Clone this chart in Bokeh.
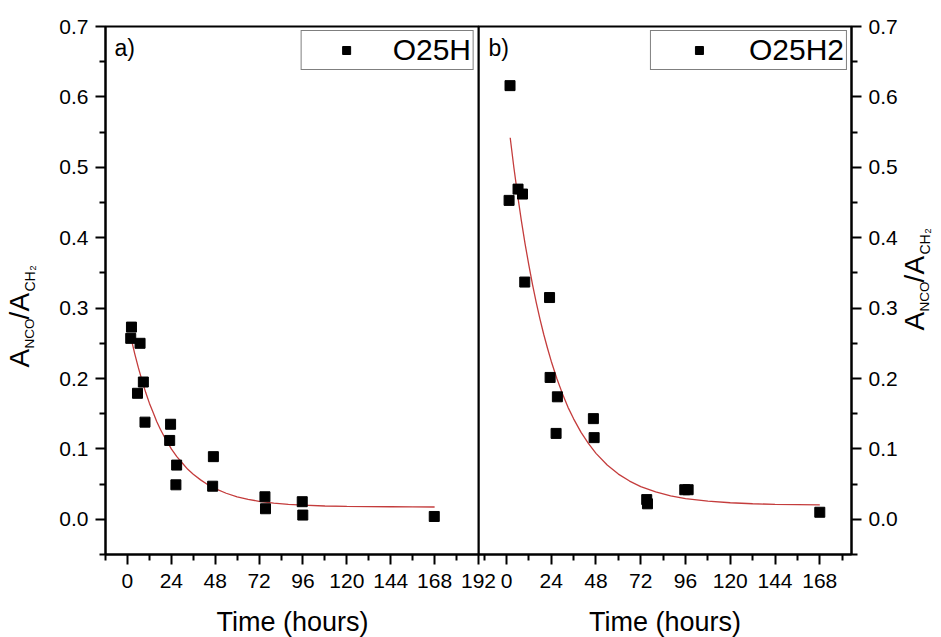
from math import pi
from bokeh.plotting import figure
from bokeh.models import Range1d, FixedTicker, Label, Legend, LegendItem, NumeralTickFormatter
from bokeh.layouts import row, column
from bokeh.embed import file_html
from bokeh.resources import INLINE

FONT = "Liberation Sans"

# ---------------- data ----------------
a_time = [2.2, 1.8, 6.9, 8.7, 5.5, 9.6, 23.6, 23.1, 26.9, 26.5, 47.0, 46.6, 75.2, 75.5, 95.6, 95.9, 167.8]
a_ratio = [0.273, 0.257, 0.250, 0.195, 0.179, 0.138, 0.135, 0.112, 0.077, 0.049, 0.089, 0.047, 0.032, 0.015, 0.025, 0.006, 0.004]
a_fit_time = [2, 4, 6, 8, 10, 12, 14, 16, 18, 20, 22, 24, 27, 30, 33, 36, 40, 44, 48, 54, 60, 66, 72,
              80, 88, 96, 108, 120, 132, 144, 156, 168]
a_fit_ratio = [0.257, 0.235, 0.215, 0.197, 0.180, 0.165, 0.152, 0.139, 0.128, 0.118, 0.109, 0.100,
               0.089, 0.080, 0.071, 0.064, 0.056, 0.049, 0.0435, 0.037, 0.032, 0.0284, 0.0256,
               0.023, 0.0213, 0.0201, 0.0189, 0.0183, 0.0179, 0.0178, 0.0176, 0.0175]

b_time = [1.9, 1.4, 6.2, 8.6, 9.8, 23.1, 23.4, 27.3, 26.6, 46.6, 47.0, 75.2, 75.6, 95.6, 97.4, 168.0]
b_ratio = [0.616, 0.453, 0.469, 0.462, 0.337, 0.315, 0.2015, 0.174, 0.122, 0.143, 0.116, 0.028, 0.022, 0.042, 0.042, 0.010]
b_fit_time = [2, 4, 6, 8, 10, 12, 14, 16, 18, 20, 22, 24, 27, 30, 33, 36, 40, 44, 48, 54, 60, 66, 72,
              80, 88, 96, 108, 120, 132, 144, 156, 168]
b_fit_ratio = [0.542, 0.499, 0.460, 0.424, 0.391, 0.361, 0.333, 0.3075, 0.284, 0.2625, 0.243, 0.2246,
               0.200, 0.1785, 0.159, 0.1427, 0.1235, 0.1074, 0.0937, 0.0771, 0.0642, 0.0543, 0.0465,
               0.0389, 0.0334, 0.0295, 0.0257, 0.0235, 0.0221, 0.0212, 0.0208, 0.0204]

y_ticks = [0.0, 0.1, 0.2, 0.3, 0.4, 0.5, 0.6, 0.7]
y_minor = [-0.05, 0.05, 0.15, 0.25, 0.35, 0.45, 0.55, 0.65]
a_x_ticks = [0, 24, 48, 72, 96, 120, 144, 168, 192]
b_x_ticks = [0, 24, 48, 72, 96, 120, 144, 168]
x_minor = [-12, 12, 36, 60, 84, 108, 132, 156, 180]

legend_a = "O25H"
legend_b = "O25H2"
x_title = "Time (hours)"

# ---------------- helpers ----------------
def style_axis(ax, ticks, minor, numeric_fmt=None):
    ax.ticker = FixedTicker(ticks=ticks, minor_ticks=minor)
    if numeric_fmt:
        ax.formatter = NumeralTickFormatter(format=numeric_fmt)
    ax.major_label_text_font = FONT
    ax.major_label_text_font_size = "21px"
    ax.major_label_text_color = "black"
    ax.axis_line_color = "black"
    ax.axis_line_width = 2
    ax.major_tick_line_color = "black"
    ax.major_tick_line_width = 2
    ax.minor_tick_line_color = "black"
    ax.minor_tick_line_width = 2
    ax.major_tick_in = 0
    ax.minor_tick_in = 0
    ax.major_tick_out = 10
    ax.minor_tick_out = 6


def base_fig(width, x_range, border_left, border_right, y_loc):
    p = figure(width=width, height=600, x_range=x_range, y_range=Range1d(-0.05, 0.7),
               output_backend="svg", toolbar_location=None, y_axis_location=y_loc,
               min_border_left=border_left, min_border_right=border_right,
               min_border_top=26, min_border_bottom=46)
    p.title.visible = False
    p.xgrid.visible = False
    p.ygrid.visible = False
    p.outline_line_color = "black"
    p.outline_line_width = 2
    p.outline_line_alpha = 1
    p.background_fill_alpha = 0
    p.border_fill_alpha = 0
    p.xaxis[0].major_label_standoff = 9
    ya = p.yaxis[0]
    ya.major_label_standoff = 7
    style_axis(ya, y_ticks, y_minor, "0.0")
    return p


def blank_fig(width, height):
    p = figure(width=width, height=height, x_range=Range1d(0, 1), y_range=Range1d(0, 1),
               output_backend="svg", toolbar_location=None, x_axis_location=None,
               y_axis_location=None, min_border=0, outline_line_color=None)
    p.title.visible = False
    p.xgrid.visible = False
    p.ygrid.visible = False
    p.background_fill_alpha = 0
    p.border_fill_alpha = 0
    return p


# (text, font px, baseline shift to the right, start offset upward from label bottom)
LABEL_PARTS = [("A", 28, 0, 0), ("NCO", 13.5, 10, 19), ("/", 28, 0, 48),
               ("A", 28, 0, 56), ("CH", 14, 10, 76), ("2", 9, 13, 97)]


def vertical_label(p, x0, y0):
    for text, size, dx, dy in LABEL_PARTS:
        p.add_layout(Label(x=x0 + dx, y=y0 + dy, x_units="screen", y_units="screen", text=text,
                           angle=pi / 2, text_font=FONT, text_font_size=f"{size}px",
                           text_color="black", text_baseline="alphabetic", text_align="left"))


def add_legend(p, renderer, text, glyph_w):
    leg = Legend(items=[LegendItem(label=text, renderers=[renderer])], location="top_right",
                 label_text_font=FONT, label_text_font_size="30px", label_text_color="black",
                 padding=2, spacing=0, glyph_width=glyph_w, glyph_height=20, label_standoff=4,
                 margin=4, border_line_color="black", border_line_width=1,
                 background_fill_color="white", background_fill_alpha=1)
    p.add_layout(leg)


# ---------------- panel a ----------------
pa = base_fig(448, Range1d(-12, 192), 55, 20, "left")
style_axis(pa.xaxis[0], a_x_ticks, x_minor)
pa.line(a_fit_time, a_fit_ratio, line_color="#c43c3c", line_width=1.3)
ra = pa.scatter(a_time, a_ratio, marker="square", size=10, color="black")
add_legend(pa, ra, legend_a, 85)
pa.add_layout(Label(x=9, y=494, x_units="screen", y_units="screen", text="a)",
                    text_font=FONT, text_font_size="23px", text_color="black"))

# ---------------- panel b ----------------
pb = base_fig(422, Range1d(-15, 185), 0, 49, "right")
pb.margin = (0, 0, 0, -20)
style_axis(pb.xaxis[0], b_x_ticks, x_minor)
pb.line(b_fit_time, b_fit_ratio, line_color="#c43c3c", line_width=1.3)
rb = pb.scatter(b_time, b_ratio, marker="square", size=10, color="black")
add_legend(pb, rb, legend_b, 92)
pb.add_layout(Label(x=10, y=494, x_units="screen", y_units="screen", text="b)",
                    text_font=FONT, text_font_size="23px", text_color="black"))

# ---------------- axis titles ----------------
titles = blank_fig(850, 37)
for cx in (242, 614.5):
    titles.add_layout(Label(x=cx, y=16, x_units="screen", y_units="screen", text=x_title,
                            text_font=FONT, text_font_size="27px", text_color="black",
                            text_align="center", text_baseline="alphabetic"))

ylab_left = blank_fig(50, 637)
vertical_label(ylab_left, 19, 270)
ylab_right = blank_fig(60, 637)
ylab_right.margin = (0, 0, 0, -19)
vertical_label(ylab_right, 33, 307)

layout = row(ylab_left, column(row(pa, pb), titles), ylab_right)
open("out.html", "w").write(file_html(layout, INLINE))
